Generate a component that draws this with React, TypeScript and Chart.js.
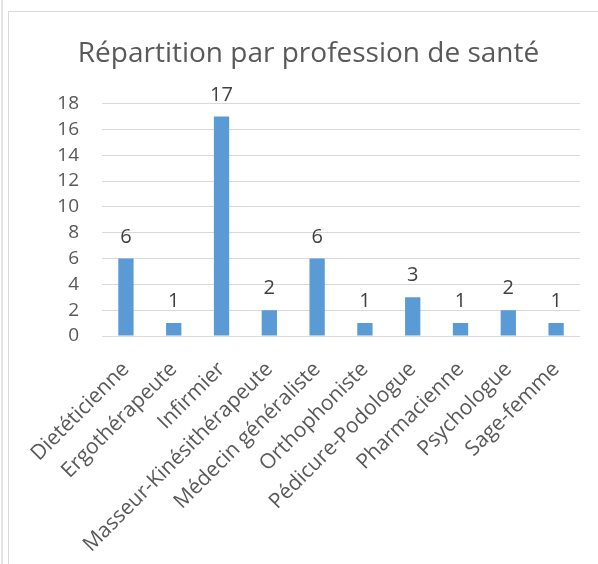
import React, { useEffect, useRef } from "react";
import { Chart, registerables } from "chart.js";

Chart.register(...registerables);

const categories = [
  "Dietéticienne",
  "Ergothérapeute",
  "Infirmier",
  "Masseur-Kinésithérapeute",
  "Médecin généraliste",
  "Orthophoniste",
  "Pédicure-Podologue",
  "Pharmacienne",
  "Psychologue",
  "Sage-femme",
];
const values = [6, 1, 17, 2, 6, 1, 3, 1, 2, 1];
const yTicks = [0, 2, 4, 6, 8, 10, 12, 14, 16, 18];
const titleText = "Répartition par profession de santé";

const FONT = "'Open Sans', sans-serif";

const valueLabels = {
  id: "valueLabels",
  afterDatasetsDraw(chart: any) {
    const ctx = chart.ctx;
    const meta = chart.getDatasetMeta(0);
    ctx.save();
    ctx.fillStyle = "#404040";
    ctx.font = `20px ${FONT}`;
    ctx.textAlign = "center";
    ctx.textBaseline = "alphabetic";
    meta.data.forEach((bar: any, i: number) => {
      ctx.fillText(String(values[i]), bar.x, bar.y - 16);
    });
    ctx.restore();
  },
};

export default function App() {
  const ref = useRef<HTMLCanvasElement | null>(null);
  useEffect(() => {
    if (!ref.current) return;
    const chart = new Chart(ref.current, {
      type: "bar",
      data: {
        labels: categories,
        datasets: [
          {
            data: values,
            backgroundColor: "#5B9BD5",
            barPercentage: 0.32,
            categoryPercentage: 1,
          },
        ],
      },
      options: {
        animation: false,
        responsive: false,
        devicePixelRatio: 1,
        layout: { padding: { left: 28, right: 18, top: 0, bottom: 0 } },
        plugins: {
          legend: { display: false },
          tooltip: { enabled: false },
          title: {
            display: true,
            text: titleText,
            color: "#595959",
            font: { family: FONT, size: 28, weight: "normal", lineHeight: 1.2 },
            padding: { top: 25, bottom: 33 },
          },
        },
        scales: {
          x: {
            grid: { display: false, drawTicks: false },
            border: { display: false },
            ticks: {
              color: "#595959",
              font: { family: FONT, size: 21 },
              maxRotation: 45,
              minRotation: 45,
              autoSkip: false,
              padding: 21,
            },
            afterFit(scale: any) {
              scale.height = 228;
            },
          },
          y: {
            min: 0,
            max: 18,
            afterBuildTicks(scale: any) {
              scale.ticks = yTicks.map((v) => ({ value: v }));
            },
            grid: { color: "#D9D9D9", lineWidth: 1, drawTicks: false },
            border: { display: false },
            ticks: {
              color: "#595959",
              font: { family: FONT, size: 19 },
              padding: 23,
            },
            afterFit(scale: any) {
              scale.width = 65;
            },
          },
        },
      },
      plugins: [valueLabels],
    });
    return () => chart.destroy();
  }, []);

  return (
    <div
      style={{
        position: "fixed",
        left: 0,
        top: 0,
        width: 598,
        height: 564,
        overflow: "hidden",
        background: "#fff",
      }}
    >
      <div
        style={{
          position: "absolute",
          left: 1,
          top: 0,
          width: 2,
          height: 564,
          background: "#E3E3E3",
        }}
      />
      <div
        style={{
          position: "absolute",
          left: 8,
          top: 11,
          width: 600,
          height: 600,
          borderLeft: "1px solid #D9D9D9",
          borderTop: "1px solid #D9D9D9",
        }}
      />
      <canvas
        ref={ref}
        width={589}
        height={552}
        style={{ position: "absolute", left: 9, top: 12, width: 589, height: 552 }}
      />
    </div>
  );
}
